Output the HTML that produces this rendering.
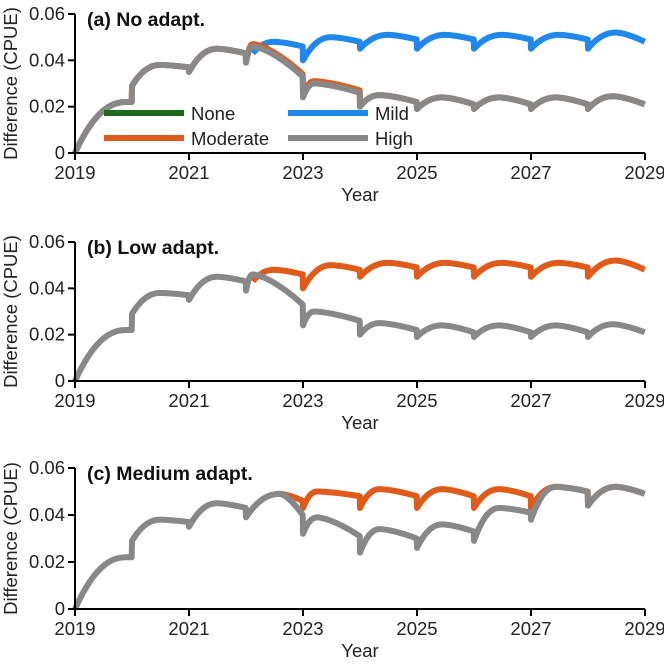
<!DOCTYPE html>
<html><head><meta charset="utf-8">
<style>
html,body{margin:0;padding:0;background:#fff;}
svg{display:block;font-family:"Liberation Sans",Arial,sans-serif;}
</style></head>
<body>
<svg id="chart" width="664" height="669" viewBox="0 0 664 669"></svg>
<script>
// Years of the x-axis
const years = [2019,2020,2021,2022,2023,2024,2025,2026,2027,2028];
const xTicks = [2019,2021,2023,2025,2027,2029];
const yTicks = [0,0.02,0.04,0.06];
const yTickLabels = ["0","0.02","0.04","0.06"];
// Per-year [dip at year start, peak, year-end value, peak timing fraction]
// Panel a
const aHighDip  = [0,0.029,0.035,0.039,0.024,0.020,0.019,0.019,0.019,0.019];
const aHighPeak = [0.022,0.038,0.045,0.046,0.030,0.025,0.024,0.024,0.024,0.0245];
const aHighEnd  = [0.022,0.037,0.043,0.033,0.026,0.022,0.021,0.021,0.021,0.021];
const aHighTp   = [0.9,0.5,0.5,0.12,0.2,0.35,0.45,0.45,0.45,0.45];
const aModDip   = [0,0.029,0.035,0.039,0.025,0.020,0.019,0.019,0.019,0.019];
const aModPeak  = [0.022,0.038,0.045,0.047,0.031,0.025,0.024,0.024,0.024,0.0245];
const aModEnd   = [0.022,0.037,0.043,0.034,0.027,0.022,0.021,0.021,0.021,0.021];
const aMildDip  = [0,0.029,0.035,0.039,0.040,0.045,0.045,0.045,0.045,0.045];
const aMildPeak = [0.022,0.038,0.045,0.048,0.050,0.051,0.051,0.051,0.051,0.052];
const aMildEnd  = [0.022,0.037,0.043,0.046,0.048,0.049,0.049,0.049,0.049,0.048];
const mildTp    = [0.9,0.5,0.5,0.5,0.5,0.5,0.5,0.5,0.5,0.5];
// Panel c
const cHighDip  = [0,0.029,0.035,0.039,0.032,0.024,0.026,0.029,0.038,0.044];
const cHighPeak = [0.022,0.038,0.045,0.049,0.039,0.034,0.036,0.043,0.052,0.052];
const cHighEnd  = [0.022,0.037,0.043,0.040,0.031,0.030,0.033,0.041,0.050,0.049];
const cHighTp   = [0.9,0.5,0.5,0.6,0.25,0.35,0.45,0.45,0.45,0.5];
const cModDip   = [0,0.029,0.035,0.039,0.043,0.043,0.043,0.043,0.043,0.044];
const cModPeak  = [0.022,0.038,0.045,0.049,0.050,0.051,0.051,0.051,0.052,0.052];
const cModEnd   = [0.022,0.037,0.043,0.046,0.048,0.048,0.048,0.048,0.050,0.049];

const COLORS = {none:"#1a6b1a",mild:"#1f88ea",moderate:"#e05a1a",high:"#888888"};
const NS = "http://www.w3.org/2000/svg";
const svg = document.getElementById("chart");
const X0 = 75, X1 = 645;
function xs(v){ return X0 + (v-2019)/(2029-2019)*(X1-X0); }

function mk(tag, attrs, parent){
  const e = document.createElementNS(NS, tag);
  for (const k in attrs) e.setAttribute(k, attrs[k]);
  (parent||svg).appendChild(e);
  return e;
}

function seriesPath(dip, peak, end, tp, ys, startFrac){
  let d = "";
  for (let i=0;i<years.length;i++){
    const N = 50;
    for (let j=0;j<=N;j++){
      const t = j/N;
      let v;
      if (t < tp[i]) { const u = 1 - t/tp[i]; v = dip[i] + (peak[i]-dip[i])*(1-Math.pow(u,2.2)); }
      else { const u = (t-tp[i])/(1-tp[i]); v = peak[i] + (end[i]-peak[i])*Math.pow(u,1.5); }
      const yr = years[i] + t*0.995;
      if (startFrac && yr < startFrac) continue;
      d += (d===""?"M":"L") + xs(yr).toFixed(2) + "," + ys(v).toFixed(2);
    }
  }
  return d;
}

function panel(cfg){
  const g = mk("g", {});
  
  
  const ys = v => cfg.y0 - v/0.06*(cfg.y0-cfg.y6);
  cfg.series.forEach(s=>{
    const p = mk("path", {d: seriesPath(s.dip,s.peak,s.end,s.tp,ys,s.start), fill:"none", stroke:COLORS[s.key], "stroke-width":6, "stroke-linejoin":"round"}, g);
    
    
  });
  const ax = mk("path", {d:`M${X0},${cfg.y6}V${cfg.y0}H${X1}`, fill:"none", stroke:"#000", "stroke-width":2}, g);
  
  
  yTicks.forEach((v,i)=>{
    mk("line",{x1:X0-7,x2:X0,y1:ys(v),y2:ys(v),stroke:"#000","stroke-width":2},g);
    const t = mk("text",{x:X0-10,y:ys(v)+6,"text-anchor":"end","font-size":18.5,fill:"#222"},g);
    t.textContent = yTickLabels[i];
    
    
  });
  xTicks.forEach(v=>{
    mk("line",{x1:xs(v),x2:xs(v),y1:cfg.y0,y2:cfg.y0+7,stroke:"#000","stroke-width":2},g);
    const t = mk("text",{x:xs(v),y:cfg.y0+26,"text-anchor":"middle","font-size":18.5,fill:"#222"},g);
    t.textContent = v;
    
    
  });
  const yl = mk("text",{x:0,y:0,"text-anchor":"middle","font-size":18.5,fill:"#222",transform:`translate(17,${(cfg.y0+cfg.y6)/2}) rotate(-90)`},g);
  yl.textContent = "Difference (CPUE)";
  
  
  const xl = mk("text",{x:360,y:cfg.y0+48,"text-anchor":"middle","font-size":18.5,fill:"#222"},g);
  xl.textContent = "Year";
  
  
  const ti = mk("text",{x:87,y:cfg.y6+12,"font-size":19.5,"font-weight":"bold",fill:"#111"},g);
  ti.textContent = cfg.title;
  
  
  return g;
}

panel({name:"panel-a", y0:153, y6:14, title:"(a) No adapt.", series:[
  {key:"mild", dip:aMildDip, peak:aMildPeak, end:aMildEnd, tp:mildTp, start:2022.1},
  {key:"moderate", dip:aModDip, peak:aModPeak, end:aModEnd, tp:aHighTp},
  {key:"high", dip:aHighDip, peak:aHighPeak, end:aHighEnd, tp:aHighTp}
]});
panel({name:"panel-b", y0:381, y6:242, title:"(b) Low adapt.", series:[
  {key:"moderate", dip:aMildDip, peak:aMildPeak, end:aMildEnd, tp:mildTp, start:2022.1},
  {key:"high", dip:aHighDip, peak:aHighPeak, end:aHighEnd, tp:aHighTp}
]});
panel({name:"panel-c", y0:609, y6:468, title:"(c) Medium adapt.", series:[
  {key:"moderate", dip:cModDip, peak:cModPeak, end:cModEnd, tp:cHighTp, start:2022.5},
  {key:"high", dip:cHighDip, peak:cHighPeak, end:cHighEnd, tp:cHighTp}
]});

const legendItems = [["None","none",104,113],["Moderate","moderate",104,138],["Mild","mild",288,113],["High","high",288,138]];
const lg = mk("g",{});


legendItems.forEach(it=>{
  const l = mk("line",{x1:it[2],x2:it[2]+80,y1:it[3],y2:it[3],stroke:COLORS[it[1]],"stroke-width":6},lg);
  
  
  const t = mk("text",{x:it[2]+87,y:it[3]+7,"font-size":18.5,fill:"#222"},lg);
  t.textContent = it[0];
  
  
});
</script>
</body></html>
